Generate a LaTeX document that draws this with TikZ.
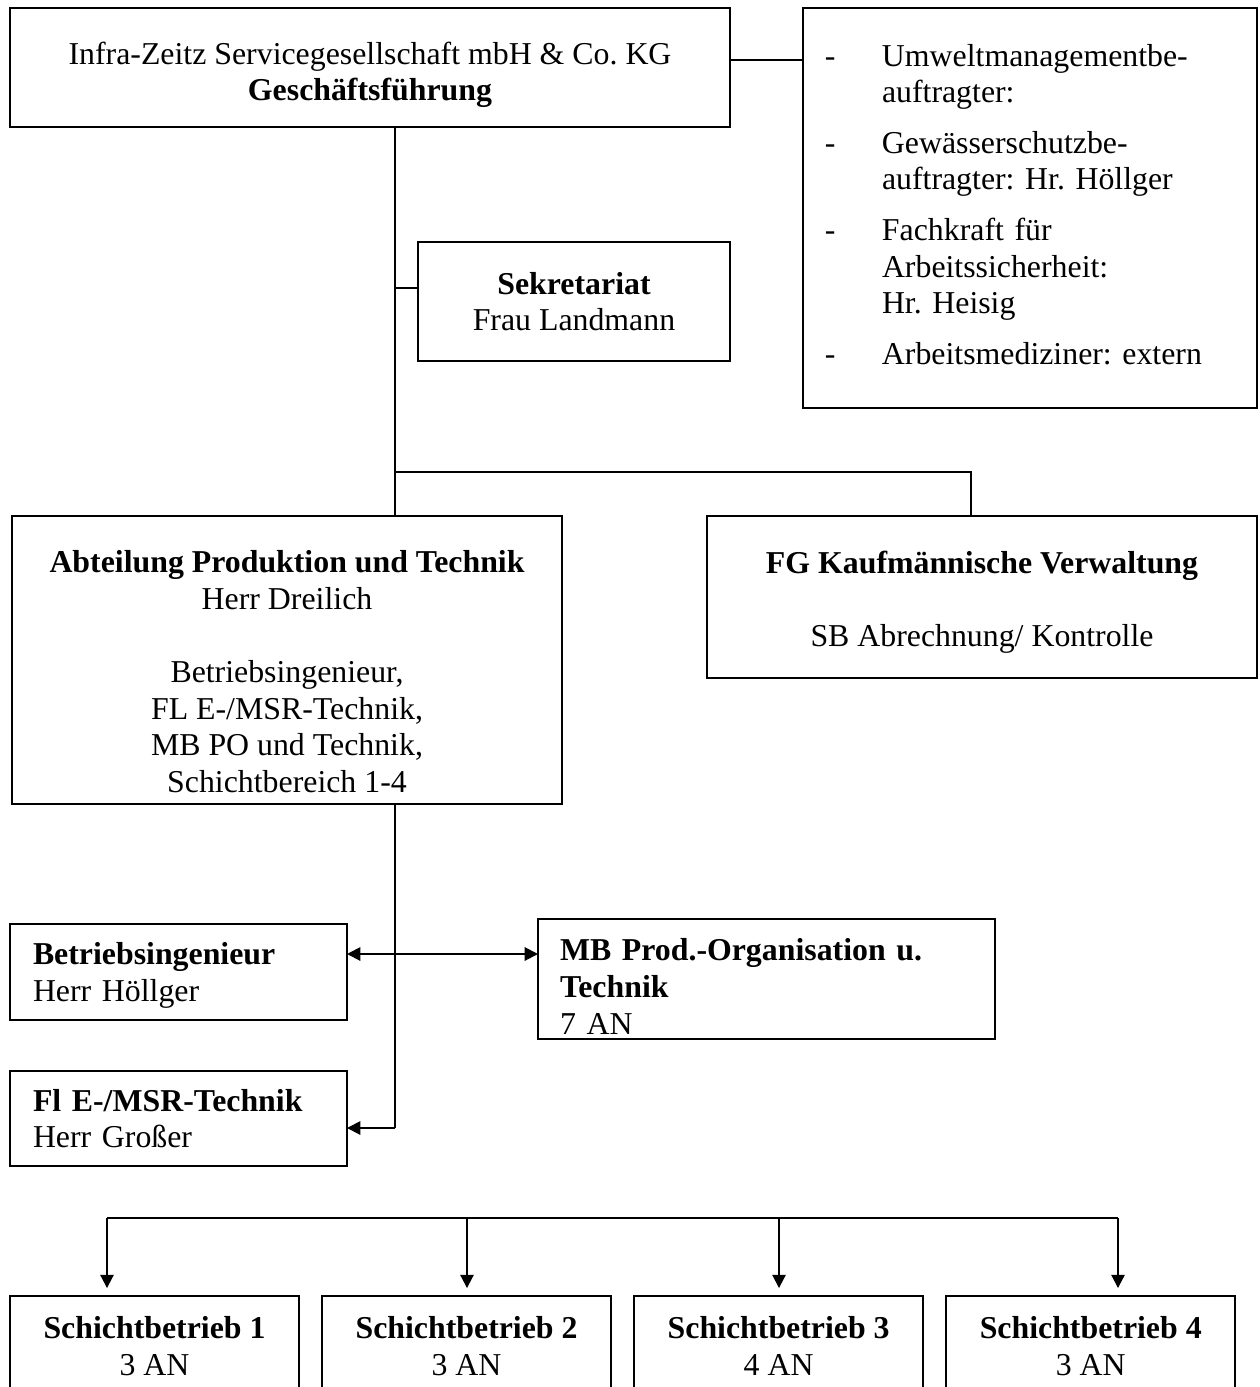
\documentclass[tikz,border=0pt]{standalone}
\usepackage{fontspec}
\setmainfont{Liberation Serif}
\frenchspacing
\usepackage{tikz}
\usetikzlibrary{arrows.meta,positioning}

\begin{document}
\begin{tikzpicture}[x=0.377pt,y=-0.377pt,line width=0.75pt,
  >={Triangle[length=5pt,width=5pt]},
  box/.style={draw,rectangle,anchor=north west,inner sep=0pt,outer sep=0pt,align=center,font=\fontsize{12}{13.8}\selectfont},
  lbox/.style={box,align=left},
  sbox/.style={box,minimum width=108.95pt,minimum height=37.7pt}]
\useasboundingbox (0,0) rectangle (1260,1387);
\clip (0,0) rectangle (1260,1387);

\node(gf)[box,minimum width=271.44pt,minimum height=44.86pt] at (10,8) {\rule{0pt}{14pt}Infra-Zeitz Servicegesellschaft mbH \& Co. KG\\\textbf{Geschäftsführung}};

\node(beauf)[lbox,minimum width=171.16pt,minimum height=150.8pt,text width=154.6pt] at (803,8) {\noindent\begin{tabular}{@{}p{21.5pt}@{}l@{}}
-&Umweltmanagementbe-\\
&auftragter:\\[5.3pt]
-&Gewässerschutzbe-\\
&auftragter: Hr. Höllger\\[5.3pt]
-&Fachkraft für\\
&Arbeitssicherheit:\\
&Hr. Heisig\\[5.3pt]
-&Arbeitsmediziner: extern
\end{tabular}};

\node(sek)[box,minimum width=117.62pt,minimum height=44.86pt] at (418,242) {\textbf{Sekretariat}\\Frau Landmann};

\node(abt)[box,minimum width=207.35pt,minimum height=108.58pt] at (12,516) {\rule{0pt}{17pt}\textbf{Abteilung Produktion und Technik}\\Herr Dreilich\\[13.8pt]Betriebsingenieur,\\FL E-/MSR-Technik,\\MB PO und Technik,\\Schichtbereich 1-4};

\node(kv)[box,minimum width=207.35pt,minimum height=61.07pt] at (707,516) {\rule{0pt}{12.5pt}\textbf{FG Kaufmännische Verwaltung}\\[13.8pt]SB Abrechnung/ Kontrolle};

\node(bi)[lbox,minimum width=127.05pt,minimum height=36.19pt,text width=109.7pt] at (10,924) {\rule{0pt}{11pt}\textbf{Betriebsingenieur}\\Herr Höllger};

\node(fl)[lbox,minimum width=127.05pt,minimum height=35.82pt,text width=109.7pt,below=19.2pt of bi.south west,anchor=north west] {\textbf{Fl E-/MSR-Technik}\\Herr Großer};

\node(mb)[lbox,minimum width=172.29pt,minimum height=45.24pt,text width=155.7pt] at (538,919) {\rule{0pt}{14pt}\textbf{MB Prod.-Organisation u.}\\\textbf{Technik}\\7 AN};

\node(sb1)[sbox] at (10,1296) {\textbf{Schichtbetrieb 1}\\3 AN};

\node(sb2)[sbox,right=8.7pt of sb1.north east,anchor=north west] {\textbf{Schichtbetrieb 2}\\3 AN};

\node(sb3)[sbox,right=8.7pt of sb2.north east,anchor=north west] {\textbf{Schichtbetrieb 3}\\4 AN};

\node(sb4)[sbox,right=8.7pt of sb3.north east,anchor=north west] {\textbf{Schichtbetrieb 4}\\3 AN};

\coordinate(j0) at (730,60);
\coordinate(j1) at (395,288);
\coordinate(j2) at (395,472);
\coordinate(j3) at (395,954);
\coordinate(j4) at (395,1128);
\coordinate(j5) at (971,472);
\coordinate(a1) at (107,1218);
\coordinate(a2) at (467,1218);
\coordinate(a3) at (779,1218);
\coordinate(a4) at (1118,1218);

\draw (gf.east |- j0) -- (beauf.west |- j0);
\draw (gf.south -| j2) -- (abt.north -| j2);
\draw (j1) -- (j1 -| sek.west);
\draw (j2) -- (j5) -- (j5 |- kv.north);
\draw (abt.south -| j4) -- (j4);
\draw [->] (j4) -- (j4 -| fl.east);
\draw [<->] (j3 -| bi.east) -- (j3 -| mb.west);
\draw (a1) -- (a4);
\foreach \i in {1,...,4} \draw [->,shorten >=3pt] (a\i) -- (a\i |- sb\i.north);

\end{tikzpicture}
\end{document}
